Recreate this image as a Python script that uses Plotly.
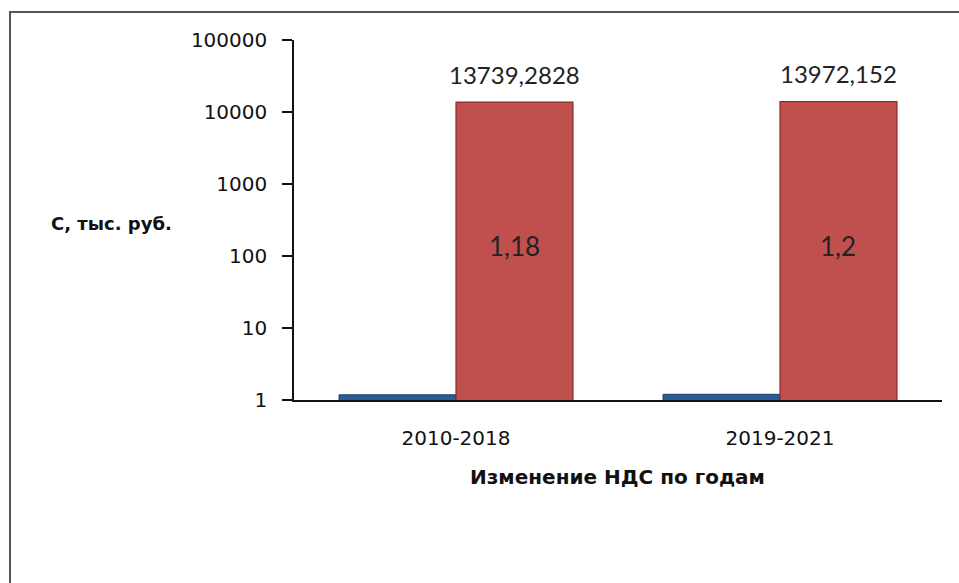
import math
import plotly.graph_objects as go

categories = ["2010-2018", "2019-2021"]
blue_values = [1.18, 1.2]
red_values = [13739.2828, 13972.152]
blue_labels = ["1,18", "1,2"]
red_labels = ["13739,2828", "13972,152"]
y_ticks = [1, 10, 100, 1000, 10000, 100000]

W, H = 959, 583
L, R, T, B = 294, 17, 40, 183
pw, ph = W - L - R, H - T - B
BARGAP = 0.278
bar_w = pw / len(categories) * (1 - BARGAP) / 2

LABEL_FONT = "Lato, Open Sans, sans-serif"

fig = go.Figure()
fig.add_trace(go.Bar(
    x=categories, y=blue_values, name="blue",
    marker=dict(color="#2B5C96", line=dict(color="#1F3F6A", width=1)),
    hoverinfo="skip",
))
fig.add_trace(go.Bar(
    x=categories, y=red_values, name="red",
    marker=dict(color="#C0504D", line=dict(color="#8A2B28", width=1.2)),
    hoverinfo="skip",
))

# labels of the small series, shown in the middle of the tall bars
for c, v, lab in zip(categories, red_values, blue_labels):
    fig.add_annotation(x=c, y=math.log10(v) / 2, xref="x", yref="y", text=lab,
                       showarrow=False, xanchor="center", yanchor="middle",
                       xshift=bar_w / 2, yshift=5,
                       font=dict(family=LABEL_FONT, size=26, color="#222222"))

for c, v, lab in zip(categories, red_values, red_labels):
    fig.add_annotation(x=c, y=math.log10(v), xref="x", yref="y", text=lab,
                       showarrow=False, xanchor="center", yanchor="middle",
                       xshift=bar_w / 2, yshift=28,
                       font=dict(family=LABEL_FONT, size=24, color="#222222"))

fig.add_annotation(x=(111 - L) / pw, y=(400 - 223) / ph, xref="paper", yref="paper",
                   xanchor="center", yanchor="middle",
                   text="<b>С, тыс. руб.</b>", showarrow=False,
                   font=dict(family="DejaVu Sans", size=18, color="#111111"))
fig.add_annotation(x=(617 - L) / pw, y=(400 - 477) / ph, xref="paper", yref="paper",
                   xanchor="center", yanchor="middle",
                   text="<b>Изменение НДС по годам</b>", showarrow=False,
                   font=dict(family="DejaVu Sans", size=20, color="#111111"))

fig.add_shape(type="rect", xref="paper", yref="paper",
              x0=(10 - L) / pw, x1=(975 - L) / pw,
              y0=(400 - 600) / ph, y1=(400 - 12) / ph,
              line=dict(color="#555555", width=2), fillcolor="rgba(0,0,0,0)")

fig.update_layout(
    width=W, height=H,
    margin=dict(l=L, r=R, t=T, b=B),
    paper_bgcolor="white", plot_bgcolor="white",
    barmode="group", bargap=BARGAP, bargroupgap=0,
    showlegend=False,
    font=dict(family="DejaVu Sans", color="#111111"),
)
fig.update_yaxes(type="log", range=[0, 5], autorange=False, tickvals=y_ticks,
                 ticktext=[str(v) for v in y_ticks],
                 showgrid=False, zeroline=False, showline=True,
                 linecolor="#111111", linewidth=1.5,
                 ticks="outside", ticklen=10, tickcolor="#111111", tickwidth=1.5,
                 tickfont=dict(family="DejaVu Sans", size=20, color="#111111"),
                 ticklabelstandoff=11)
fig.update_xaxes(type="category", range=[-0.5, len(categories) - 0.5], autorange=False,
                 showgrid=False, showline=True, linecolor="#111111", linewidth=1.5,
                 ticks="", tickfont=dict(family="DejaVu Sans", size=20, color="#111111"),
                 ticklabelstandoff=19)

fig.write_html("out.html")
